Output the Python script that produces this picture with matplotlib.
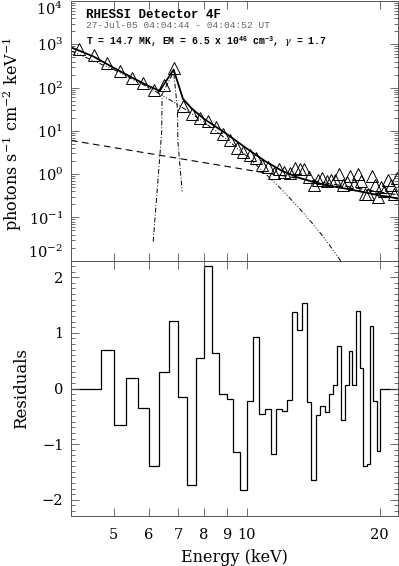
import matplotlib
matplotlib.use("Agg")
import matplotlib.pyplot as plt
from matplotlib.ticker import FixedLocator, NullLocator, LogLocator, MultipleLocator, NullFormatter, FixedFormatter

plt.rcParams['font.family'] = ['DejaVu Serif']
plt.rcParams['mathtext.fontset'] = 'dejavuserif'

# ---------------- data ----------------
obs_energy = [4.17, 4.5, 4.83, 5.17, 5.5, 5.83, 6.17, 6.5, 6.83, 7.17, 7.5, 7.83, 8.17, 8.5,
              8.83, 9.17, 9.5, 9.83, 10.17, 10.5, 10.83, 11.17, 11.5, 11.83, 12.17, 12.5,
              12.83, 13.17, 13.5, 13.83, 14.17, 14.5, 14.83, 15.17, 15.5, 15.83, 16.17,
              16.5, 16.83, 17.17, 17.5, 17.83, 18.17, 18.5, 18.83, 19.17, 19.5, 19.83,
              20.17, 20.5, 20.83, 21.17, 21.5, 21.83]
obs_flux = [780, 560, 370, 245, 170, 125, 90, 112, 290, 38, 24, 20, 17, 12,
            8.5, 6.0, 4.0, 3.2, 2.7, 2.3, 1.6, 1.5, 1.05, 1.3, 1.1, 1.05,
            1.35, 1.3, 1.3, 0.85, 0.55, 0.75, 0.8, 0.7, 0.75, 0.75, 1.0,
            0.55, 0.65, 0.9, 0.6, 1.0, 0.7, 0.35, 0.35, 0.9, 0.55, 0.3,
            0.5, 0.4, 0.75, 0.55, 0.35, 0.8]

model_energy = [4.0, 4.5, 5.0, 5.5, 6.0, 6.35, 6.83, 7.17, 7.5, 8.0, 9.0, 10.0, 11.0, 12.0,
                13.0, 14.0, 15.0, 16.0, 17.0, 18.0, 19.0, 20.0, 21.0, 22.0]
model_flux = [850, 520, 285, 170, 108, 84, 260, 55, 33, 19, 8.5, 3.9, 2.0, 1.2,
              0.85, 0.68, 0.57, 0.50, 0.45, 0.40, 0.36, 0.32, 0.30, 0.27]

thermal_energy = [4.0, 5.0, 6.0, 7.0, 8.0, 9.0, 10.0, 11.0, 12.0, 13.0, 14.0, 15.0, 16.2, 16.8]
thermal_flux = [700, 260, 100, 40, 16, 6.4, 2.6, 1.05, 0.44, 0.185, 0.078, 0.033, 0.011, 0.006]

powerlaw_energy = [4.0, 22.0]
powerlaw_flux = [6.0, 0.33]

line_energy = [6.14, 6.42, 6.43, 6.83, 6.97, 6.98, 7.14]
line_flux = [0.0275, 10.0, 70.0, 230.0, 31.0, 6.0, 0.40]

resid_edges = [4.0, 4.67, 5.0, 5.33, 5.67, 6.0, 6.33, 6.67, 7.0, 7.33, 7.67, 8.0, 8.33, 8.67,
               9.0, 9.33, 9.67, 10.0, 10.33, 10.67, 11.0, 11.33, 11.67, 12.0, 12.33, 12.67,
               13.0, 13.33, 13.67, 14.0, 14.33, 14.67, 15.0, 15.33, 15.67, 16.0, 16.33,
               16.67, 17.0, 17.33, 17.67, 18.0, 18.33, 18.67, 19.0, 19.33, 19.67, 20.0, 22.0]
resid_values = [0.0, 0.69, -0.66, 0.18, -0.35, -1.40, 0.29, 1.21, -0.16, -1.74, 0.55, 2.21,
                0.63, -0.09, -0.18, -1.15, -1.83, -0.22, 0.92, -0.46, -0.36, -1.18, -0.36,
                -0.40, -0.20, 1.37, 1.06, 1.54, -0.25, -1.64, -0.48, -0.31, -0.43, -0.09,
                0.06, 0.76, -0.57, 0.07, 0.67, 0.07, 1.40, 0.37, -1.39, -1.35, 1.13, -0.22,
                -1.13, 0.0]

xtick_values = [5, 6, 7, 8, 9, 10, 20]
xtick_labels = ['5', '6', '7', '8', '9', '10', '20']
flux_ticks = [1e-2, 1e-1, 1e0, 1e1, 1e2, 1e3, 1e4]
flux_tick_labels = [r'$10^{-2}$', r'$10^{-1}$', r'$10^{0}$', r'$10^{1}$', r'$10^{2}$',
                    r'$10^{3}$', r'$10^{4}$']
resid_ticks = [-2, -1, 0, 1, 2]
resid_tick_labels = ['\u22122', '\u22121', '0', '1', '2']

title_line1 = "RHESSI Detector 4F"
title_line2 = "27-Jul-05 04:04:44 - 04:04:52 UT"
title_line3 = r"T = 14.7 MK, EM = 6.5 x 10$^{46}$ cm$^{-3}$, $\gamma$ = 1.7"

# ---------------- figure ----------------
W, H = 399, 566
fig = plt.figure(figsize=(W / 100, H / 100), dpi=100)

left = 71 / W
width = (398 - 71) / W
top_y = 1 - 1 / H
mid_y = 1 - 260.7 / H
bot_y = 1 - 516.3 / H

ax1 = fig.add_axes([left, mid_y, width, top_y - mid_y])
ax2 = fig.add_axes([left, bot_y, width, mid_y - bot_y])

lw = 0.9
# top panel
ax1.plot(powerlaw_energy, powerlaw_flux, color='black', lw=0.8, dashes=(6, 4))
ax1.plot(thermal_energy, thermal_flux, color='black', lw=0.7,
         dashes=(5, 2, 1, 2, 1, 2, 1, 2))
ax1.plot(line_energy, line_flux, color='black', lw=0.7, dashes=(5, 2, 1, 2))
ax1.plot(model_energy, model_flux, color='black', lw=1.3)
ax1.plot(obs_energy, obs_flux, linestyle='none', marker='^', ms=8,
         mfc='none', mec='black', mew=0.7)

ax1.set_xscale('log')
ax1.set_yscale('log')
ax1.set_xlim(4, 22)
ax1.set_ylim(1e-2, 1e4)

# bottom panel
ax2.stairs(resid_values, resid_edges, baseline=None, color='black', lw=lw)
ax2.set_xscale('log')
ax2.set_xlim(4, 22)
ax2.set_ylim(-2.3, 2.3)

for ax in (ax1, ax2):
    ax.xaxis.set_major_locator(FixedLocator(xtick_values))
    ax.xaxis.set_minor_locator(NullLocator())
    ax.tick_params(which='both', direction='in', top=True, right=True, width=0.6,
                   color='#555555')
    ax.tick_params(which='major', length=6)
    ax.tick_params(which='minor', length=3)
    for sp in ax.spines.values():
        sp.set_linewidth(0.7)
        sp.set_color('#555555')

ax1.xaxis.set_major_formatter(NullFormatter())
ax1.yaxis.set_major_locator(FixedLocator(flux_ticks))
ax1.yaxis.set_major_formatter(FixedFormatter(flux_tick_labels))
ax1.yaxis.set_minor_locator(LogLocator(base=10, subs=range(2, 10), numticks=20))
ax1.yaxis.set_minor_formatter(NullFormatter())
ax1.tick_params(axis='y', labelsize=10.5, pad=5.5)

ax2.xaxis.set_major_formatter(FixedFormatter(xtick_labels))
ax2.yaxis.set_major_locator(FixedLocator(resid_ticks))
ax2.yaxis.set_major_formatter(FixedFormatter(resid_tick_labels))
ax2.yaxis.set_minor_locator(MultipleLocator(0.1))
ax2.tick_params(axis='y', labelsize=10.5, pad=5.5)
ax2.tick_params(axis='x', labelsize=10.5, pad=8.5)

ytk = ax1.yaxis.get_major_ticks()
ytk[0].label1.set_verticalalignment('bottom')
ytk[-1].label1.set_verticalalignment('top')

ax1.set_ylabel(r"photons s$^{-1}$ cm$^{-2}$ keV$^{-1}$", fontsize=11.5)
ax1.yaxis.set_label_coords(-0.145, 0.49)
ax2.set_ylabel("Residuals", fontsize=12)
ax2.yaxis.set_label_coords(-0.125, 0.5)
ax2.set_xlabel("Energy (keV)", fontsize=11.5)
ax2.xaxis.set_label_coords(0.5, -0.128)

plt.rcParams['mathtext.fontset'] = 'custom'
plt.rcParams['mathtext.rm'] = 'Liberation Mono:bold'
plt.rcParams['mathtext.it'] = 'DejaVu Serif:italic'
plt.rcParams['mathtext.bf'] = 'Liberation Mono:bold'

tx = 86 / W
fig.text(tx, 1 - 15 / H, title_line1, family=['Liberation Mono', 'DejaVu Sans Mono'],
         weight='bold', fontsize=9, va='center', ha='left')
fig.text(tx, 1 - 25.5 / H, title_line2, family=['Liberation Mono', 'DejaVu Sans Mono'],
         color='#666666', fontsize=6.8, va='center', ha='left')
fig.text(tx, 1 - 41.5 / H, title_line3, family=['Liberation Mono', 'DejaVu Sans Mono'],
         weight='bold', fontsize=7.0, va='center', ha='left')

fig.savefig("out.png", dpi=100)
